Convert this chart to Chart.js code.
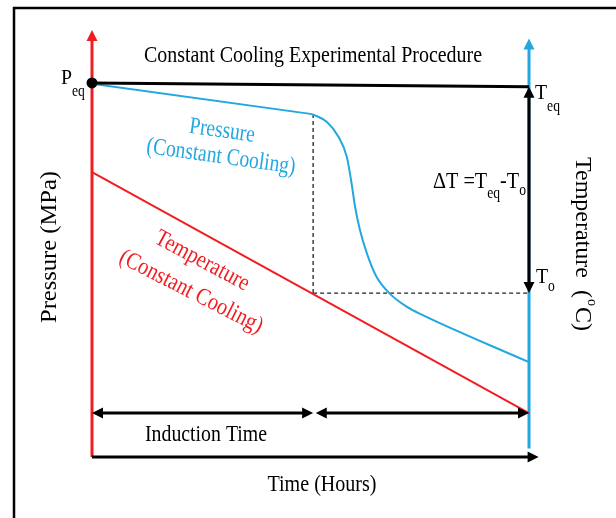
<!DOCTYPE html>
<html>
<head>
<meta charset="utf-8">
<script src="https://cdn.jsdelivr.net/npm/chart.js@4"></script>
<style>
  html, body { margin: 0; background: #fff; }
  #wrap { width: 616px; height: 518px; }
</style>
</head>
<body>
<div id="wrap"><canvas id="chart"></canvas></div>
<script>
// Schematic values (time in arbitrary hours, level in arbitrary units 0-10)
const eqTime = [0, 10];
const eqLevel = [8.76, 8.67];                 // Peq -> Teq line
const holdTime = [0, 5.04];
const holdPressure = [8.74, 8.03];            // pressure before nucleation
const growthTime = [5.04, 5.37, 5.64, 5.83, 5.94, 6.02, 6.13, 6.29, 6.51, 6.82, 7.20, 7.51, 10];
const growthPressure = [8.03, 7.85, 7.50, 7.03, 6.41, 5.86, 5.32, 4.77, 4.22, 3.82, 3.52, 3.35, 2.22];
const temperatureTime = [0, 10];
const temperatureValues = [6.67, 1.03];
const inductionEnd = 5.06;
const endTime = 10;
const onsetLevel = 3.84;                      // To
const arrowLevel = 1.03;                      // induction time arrows

const RED = '#f01e23';
const BLUE = '#22a8e0';
const FONT = '"Liberation Serif", "Times New Roman", serif';

const pts = (xs, ys) => xs.map((x, i) => ({ x: x, y: ys[i] }));

function label(ctx, str, x, y, o) {
  o = o || {};
  ctx.save();
  ctx.translate(x, y);
  ctx.rotate((o.rot || 0) * Math.PI / 180);
  ctx.font = (o.size || 24) + 'px ' + FONT;
  const w = ctx.measureText(str).width;
  const sx = o.width ? o.width / w : (o.sx || 0.82);
  ctx.scale(sx, 1);
  ctx.textAlign = o.align || 'center';
  ctx.textBaseline = o.base || 'alphabetic';
  ctx.fillStyle = o.color || '#000';
  ctx.fillText(str, 0, 0);
  ctx.restore();
  return w * sx;
}

function arrow(ctx, x1, y1, x2, y2, color, lw, startHead, endHead) {
  const len = 11, half = 5.5;
  const a = Math.atan2(y2 - y1, x2 - x1);
  const cx = Math.cos(a), cy = Math.sin(a);
  const sx = startHead ? x1 + cx * len * 0.8 : x1, sy = startHead ? y1 + cy * len * 0.8 : y1;
  const ex = endHead ? x2 - cx * len * 0.8 : x2, ey = endHead ? y2 - cy * len * 0.8 : y2;
  ctx.save();
  ctx.strokeStyle = color; ctx.fillStyle = color; ctx.lineWidth = lw;
  ctx.beginPath(); ctx.moveTo(sx, sy); ctx.lineTo(ex, ey); ctx.stroke();
  const head = (tx, ty, dx, dy) => {
    ctx.beginPath();
    ctx.moveTo(tx, ty);
    ctx.lineTo(tx - dx * len - dy * half, ty - dy * len + dx * half);
    ctx.lineTo(tx - dx * len + dy * half, ty - dy * len - dx * half);
    ctx.closePath(); ctx.fill();
  };
  if (endHead) head(x2, y2, cx, cy);
  if (startHead) head(x1, y1, -cx, -cy);
  ctx.restore();
}

const schematic = {
  id: 'schematic',
  beforeDatasetsDraw(chart) {
    const ctx = chart.ctx, xs = chart.scales.x, ys = chart.scales.y;
    // figure frame
    ctx.save();
    ctx.strokeStyle = '#000'; ctx.lineWidth = 2.5;
    ctx.beginPath(); ctx.moveTo(14, 518); ctx.lineTo(14, 8); ctx.lineTo(616, 8); ctx.stroke();
    ctx.restore();
    // axes
    arrow(ctx, xs.getPixelForValue(0), ys.getPixelForValue(0), xs.getPixelForValue(0), ys.getPixelForValue(10), RED, 3, false, true);
    arrow(ctx, xs.getPixelForValue(endTime), ys.getPixelForValue(0.2), xs.getPixelForValue(endTime), ys.getPixelForValue(9.8), BLUE, 3, false, true);
  },
  afterDatasetsDraw(chart) {
    const ctx = chart.ctx, xs = chart.scales.x, ys = chart.scales.y;
    const px = v => xs.getPixelForValue(v), py = v => ys.getPixelForValue(v);
    // time axis
    arrow(ctx, px(0), py(0), px(10.22), py(0), '#000', 3, false, true);
    // delta T arrow
    arrow(ctx, px(endTime), py(eqLevel[1]), px(endTime), py(onsetLevel), '#000', 3, true, true);
    // induction time arrows
    arrow(ctx, px(0), py(arrowLevel), px(inductionEnd), py(arrowLevel), '#000', 3, true, true);
    arrow(ctx, px(inductionEnd + 0.06), py(arrowLevel), px(endTime), py(arrowLevel), '#000', 3, true, true);

    // texts
    label(ctx, 'Constant Cooling Experimental Procedure', 313, 62, { width: 338 });
    let x = px(0) - 31, y = py(eqLevel[0]) + 1;
    x += label(ctx, 'P', x, y, { size: 22, align: 'left', sx: 0.9 });
    label(ctx, 'eq', x, y + 12, { size: 16, align: 'left', sx: 0.85 });

    x = px(endTime) + 6; y = py(eqLevel[1]) + 12;
    x += label(ctx, 'T', x, y, { size: 22, align: 'left', sx: 0.9 });
    label(ctx, 'eq', x, y + 12, { size: 16, align: 'left', sx: 0.85 });

    x = px(endTime) + 7; y = py(onsetLevel) - 10;
    x += label(ctx, 'T', x, y, { size: 22, align: 'left', sx: 0.9 });
    label(ctx, 'o', x, y + 8, { size: 16, align: 'left', sx: 0.85 });

    x = 433; y = 188;
    x += label(ctx, '\u0394T =T', x, y, { size: 23, align: 'left', sx: 0.88 });
    x += label(ctx, 'eq', x, y + 10, { size: 16, align: 'left', sx: 0.85 });
    x += label(ctx, '-T', x, y, { size: 23, align: 'left', sx: 0.88 });
    label(ctx, 'o', x, y + 7, { size: 16, align: 'left', sx: 0.85 });

    label(ctx, 'Pressure', 222, 131, { color: BLUE, rot: 8, base: 'middle', width: 66 });
    label(ctx, '(Constant Cooling)', 221, 157, { color: BLUE, rot: 8, base: 'middle', width: 150 });
    label(ctx, 'Temperature', 202, 261, { color: RED, rot: 28, base: 'middle', width: 104 });
    label(ctx, '(Constant Cooling)', 191, 292, { color: RED, rot: 27, base: 'middle', width: 158 });

    label(ctx, 'Induction Time', 206, 441, { width: 122 });
    label(ctx, 'Time (Hours)', 322, 491, { width: 109 });

    label(ctx, 'Pressure (MPa)', 56, 247, { rot: -90, width: 152, size: 23 });

    // Temperature (°C) reading downwards, degree as raised o
    ctx.save();
    ctx.translate(576, 157);
    ctx.rotate(Math.PI / 2);
    let t = label(ctx, 'Temperature  (', 0, 0, { size: 24, align: 'left', sx: 1 });
    t += label(ctx, 'o', t + 1, -12, { size: 15, align: 'left', sx: 0.95 });
    label(ctx, 'C)', t + 2, 0, { size: 24, align: 'left', sx: 1 });
    ctx.restore();
  }
};

new Chart(document.getElementById('chart'), {
  type: 'scatter',
  data: {
    datasets: [
      {
        label: 'Equilibrium',
        data: pts(eqTime, eqLevel),
        showLine: true,
        borderColor: '#000',
        backgroundColor: '#000',
        borderWidth: 3,
        pointRadius: [4, 0],
        clip: false
      },
      {
        label: 'Pressure (hold)',
        data: pts(holdTime, holdPressure),
        showLine: true,
        borderColor: BLUE,
        borderWidth: 2,
        pointRadius: 0,
        clip: false
      },
      {
        label: 'Pressure (growth)',
        data: pts(growthTime, growthPressure),
        showLine: true,
        borderColor: BLUE,
        borderWidth: 2,
        pointRadius: 0,
        cubicInterpolationMode: 'monotone',
        clip: false
      },
      {
        label: 'Temperature',
        data: pts(temperatureTime, temperatureValues),
        showLine: true,
        borderColor: RED,
        borderWidth: 2,
        pointRadius: 0,
        clip: false
      },
      {
        label: 'Induction guide',
        data: pts([inductionEnd, inductionEnd], [holdPressure[1], onsetLevel]),
        showLine: true,
        borderColor: '#222',
        borderWidth: 1.3,
        borderDash: [4, 3],
        pointRadius: 0,
        clip: false
      },
      {
        label: 'Onset guide',
        data: pts([inductionEnd, endTime], [onsetLevel, onsetLevel]),
        showLine: true,
        borderColor: '#222',
        borderWidth: 1.3,
        borderDash: [4, 3],
        pointRadius: 0,
        clip: false
      }
    ]
  },
  options: {
    responsive: true,
    maintainAspectRatio: false,
    animation: false,
    layout: { padding: { left: 92, right: 87, top: 30, bottom: 61 } },
    scales: {
      x: { type: 'linear', min: 0, max: 10, display: false },
      y: { type: 'linear', min: 0, max: 10, display: false }
    },
    plugins: {
      legend: { display: false },
      tooltip: { enabled: false }
    }
  },
  plugins: [schematic]
});
</script>
</body>
</html>
